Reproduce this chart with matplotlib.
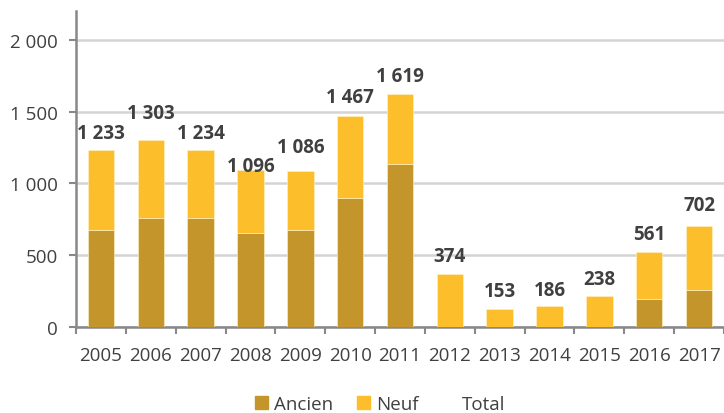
import matplotlib.pyplot as plt
from matplotlib.patches import Patch

years = ['2005', '2006', '2007', '2008', '2009', '2010', '2011',
         '2012', '2013', '2014', '2015', '2016', '2017']
ancien = [673, 755, 755, 657, 673, 895, 1135, 0, 0, 0, 0, 196, 254]
neuf = [560, 548, 479, 433, 413, 572, 484, 366, 128, 145, 212, 328, 447]
total = [1233, 1303, 1234, 1096, 1086, 1467, 1619, 374, 153, 186, 238, 561, 702]

# vertical nudge of each total label (points), as placed in the original
label_dy = [5, 12, 5, -5, 10, 7, 6, 5, 3, 0, 3, 2, 8]

c_ancien = '#C4952A'
c_neuf = '#FDBE2C'
txt = '#404040'

plt.rcParams['font.family'] = ['Open Sans', 'DejaVu Sans']

fig = plt.figure(figsize=(7.24, 4.14), dpi=100)
ax = fig.add_axes([0.105, 0.208, 0.895, 0.763])

x = range(len(years))
ax.bar(x, ancien, width=0.53, color=c_ancien, edgecolor='#fff3c8', linewidth=0.4, zorder=3)
ax.bar(x, neuf, bottom=ancien, width=0.53, color=c_neuf, edgecolor='#fff3c8', linewidth=0.4, zorder=3)

for i, t in enumerate(total):
    lab = f'{t:,}'.replace(',', ' ')
    ax.annotate(lab, (i, t), xytext=(0, label_dy[i]), textcoords='offset points',
                ha='center', va='bottom', fontsize=13.5, fontweight='bold', color=txt,
                zorder=5)

ax.set_xlim(-0.5, len(years) - 0.5)
ax.set_ylim(0, 2200)
ax.set_yticks([0, 500, 1000, 1500, 2000])
ax.set_yticklabels(['0', '500', '1 000', '1 500', '2 000'])
ax.set_xticks(list(x))
ax.set_xticklabels(years)
ax.set_xticks([i - 0.5 for i in range(len(years) + 1)], minor=True)
ax.tick_params(axis='x', which='major', length=0, pad=14, labelsize=13.5, labelcolor=txt)
ax.tick_params(axis='x', which='minor', length=5, width=1.5, color='#888888', direction='out')
ax.tick_params(axis='y', length=5, width=1.5, color='#888888', labelsize=13.5, labelcolor=txt, pad=8)

ax.grid(axis='y', color='#d4d4d4', linewidth=1.8, zorder=0)
for s in ['top', 'right']:
    ax.spines[s].set_visible(False)
for s in ['left', 'bottom']:
    ax.spines[s].set_color('#888888')
    ax.spines[s].set_linewidth(1.8)

handles = [Patch(color=c_ancien, label='Ancien'), Patch(color=c_neuf, label='Neuf'),
           Patch(color='none', label='Total')]
fig.legend(handles=handles, loc='lower center', bbox_to_anchor=(0.525, -0.04), ncol=3,
           frameon=False, fontsize=13.5, handlelength=0.7, handleheight=0.7,
           handletextpad=0.3, columnspacing=1.3, labelcolor=txt)

fig.savefig('out.png', dpi=100)
